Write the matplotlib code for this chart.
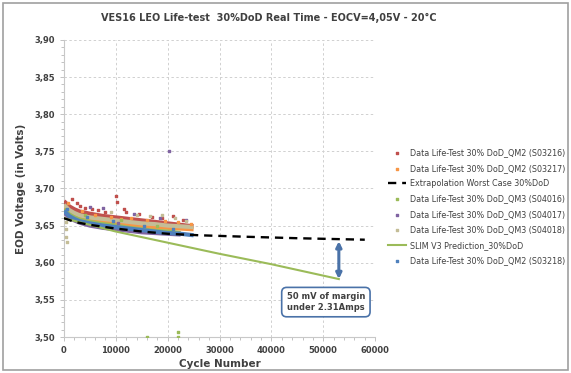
import numpy as np
import matplotlib
matplotlib.use('Agg')
import matplotlib.pyplot as plt
from matplotlib.patches import Rectangle
from matplotlib.ticker import MultipleLocator, FuncFormatter

# cycles for the dense data bands
cyc = [0, 1000, 2000, 3000, 5000, 7500, 10000, 12500, 15000, 17500, 20000, 22500, 25000]

v_s03216 = [3.683, 3.676, 3.672, 3.669, 3.666, 3.663, 3.661, 3.659, 3.657, 3.655, 3.653, 3.651, 3.649]
v_s03217 = [3.676, 3.669, 3.665, 3.662, 3.658, 3.655, 3.653, 3.651, 3.649, 3.648, 3.647, 3.646, 3.645]
v_s04018 = [3.678, 3.671, 3.667, 3.664, 3.661, 3.659, 3.657, 3.655, 3.653, 3.652, 3.650, 3.649, 3.648]
v_s04016 = [3.672, 3.665, 3.661, 3.658, 3.655, 3.652, 3.650, 3.647, 3.645, 3.643, 3.642, 3.640]
v_s04017 = [3.668, 3.661, 3.657, 3.654, 3.650, 3.647, 3.645, 3.643, 3.641, 3.640, 3.639, 3.638]
v_s03218 = [3.670, 3.663, 3.659, 3.656, 3.653, 3.650, 3.648, 3.646, 3.644, 3.642, 3.640, 3.639, 3.637]

# scattered points above / below the bands
sp_s03216_x = [1500, 2500, 4000, 6500, 8000, 10100, 10300, 12000, 14500, 17000, 19000, 21000, 23000, 3000, 5500, 11500]
sp_s03216_y = [3.686, 3.680, 3.674, 3.671, 3.668, 3.690, 3.682, 3.668, 3.665, 3.662, 3.660, 3.663, 3.658, 3.677, 3.672, 3.673]
sp_s03217_x = [800, 3500, 6000, 9000, 13000, 16000, 19500, 22000, 24500, 11000]
sp_s03217_y = [3.680, 3.670, 3.664, 3.662, 3.660, 3.658, 3.656, 3.655, 3.652, 3.659]
sp_s04016_x = [16000, 22000, 22000, 4000, 11000, 18000]
sp_s04016_y = [3.500, 3.500, 3.507, 3.664, 3.657, 3.650]
sp_s04017_x = [20200, 5000, 7500, 13500, 18500, 23500, 10500]
sp_s04017_y = [3.750, 3.675, 3.674, 3.665, 3.660, 3.657, 3.653]
sp_s04018_x = [300, 300, 300, 500, 9000, 14000, 16500, 19000, 21500, 23500]
sp_s04018_y = [3.655, 3.645, 3.635, 3.628, 3.668, 3.664, 3.663, 3.664, 3.660, 3.656]
sp_s03218_x = [600, 4500, 9500, 15500, 21000]
sp_s03218_y = [3.673, 3.662, 3.656, 3.650, 3.645]

extrap_x = [0, 2000, 5000, 10000, 15000, 20000, 26000, 35000, 45000, 58000]
extrap_y = [3.660, 3.655, 3.651, 3.646, 3.642, 3.639, 3.637, 3.635, 3.633, 3.631]

slim_x = [0, 5000, 10000, 20000, 30000, 40000, 53000]
slim_y = [3.660, 3.651, 3.642, 3.627, 3.612, 3.598, 3.578]

c_red = '#c0504d'
c_org = '#f79646'
c_grn = '#9bbb59'
c_pur = '#8064a2'
c_tan = '#c4bd97'
c_blu = '#4f81bd'
txt = '#404040'

fig = plt.figure(figsize=(5.71, 3.73), dpi=100)
fig.patches.append(Rectangle((0.006, 0.008), 0.988, 0.984, transform=fig.transFigure,
                             fill=False, edgecolor='#a0a0a0', lw=1.2))
ax = fig.add_axes([0.112, 0.0965, 0.545, 0.7965])

bands = [(v_s03216, c_red), (v_s03217, c_org), (v_s04018, c_tan),
         (v_s04016, c_grn), (v_s04017, c_pur), (v_s03218, c_blu)]
for v, c in bands:
    ax.plot(cyc[:len(v)], v, color=c, lw=3, solid_capstyle='butt', zorder=3)

ms = 3
h1 = ax.scatter(sp_s03216_x, sp_s03216_y, s=ms, marker='s', color=c_red, zorder=4,
                label='Data Life-Test 30% DoD_QM2 (S03216)')
h2 = ax.scatter(sp_s03217_x, sp_s03217_y, s=ms, marker='s', color=c_org, zorder=4,
                label='Data Life-Test 30% DoD_QM2 (S03217)')
h3, = ax.plot(extrap_x, extrap_y, color='black', ls=(0, (3.5, 2.5)), lw=1.7, zorder=5,
              label='Extrapolation Worst Case 30%DoD')
h4 = ax.scatter(sp_s04016_x, sp_s04016_y, s=ms, marker='s', color=c_grn, zorder=4,
                label='Data Life-Test 30% DoD_QM3 (S04016)')
h5 = ax.scatter(sp_s04017_x, sp_s04017_y, s=ms, marker='s', color=c_pur, zorder=4,
                label='Data Life-Test 30% DoD_QM3 (S04017)')
h6 = ax.scatter(sp_s04018_x, sp_s04018_y, s=ms, marker='s', color=c_tan, zorder=4,
                label='Data Life-Test 30% DoD_QM3 (S04018)')
h7, = ax.plot(slim_x, slim_y, color=c_grn, lw=1.5, zorder=3,
              label='SLIM V3 Prediction_30%DoD')
h8 = ax.scatter(sp_s03218_x, sp_s03218_y, s=ms, marker='s', color=c_blu, zorder=4,
                label='Data Life-Test 30% DoD_QM2 (S03218)')

ax.annotate('', xy=(53000, 3.578), xytext=(53000, 3.629),
            arrowprops=dict(arrowstyle='<|-|>', color='#4a72a8', lw=2.2,
                            mutation_scale=8, shrinkA=0, shrinkB=0), zorder=6)
ax.text(50500, 3.547, '50 mV of margin\nunder 2.31Amps', ha='center', va='center',
        fontsize=6, fontweight='bold', color=txt, zorder=7,
        bbox=dict(boxstyle='round,pad=0.6,rounding_size=0.6', fc='white',
                  ec='#4a72a8', lw=1.2))

ax.set_xlim(0, 60000)
ax.set_ylim(3.50, 3.90)
ax.xaxis.set_major_locator(MultipleLocator(10000))
ax.xaxis.set_minor_locator(MultipleLocator(2000))
ax.yaxis.set_major_locator(MultipleLocator(0.05))
ax.yaxis.set_minor_locator(MultipleLocator(0.01))
ax.yaxis.set_major_formatter(FuncFormatter(lambda v, p: ('%.2f' % v).replace('.', ',')))
ax.grid(True, which='major', ls=(0, (2.5, 2.5)), color='#d0d0d0', lw=0.7)
for s in ['top', 'right']:
    ax.spines[s].set_visible(False)
for s in ['left', 'bottom']:
    ax.spines[s].set_color('#c8c8c8')
ax.tick_params(which='both', colors='#b8b8b8', labelcolor=txt, labelsize=6, length=3, width=0.6)
ax.tick_params(which='minor', length=2)
for lab in ax.get_xticklabels() + ax.get_yticklabels():
    lab.set_fontweight('bold')

ax.set_xlabel('Cycle Number', fontsize=7.5, fontweight='bold', color=txt, labelpad=3)
ax.set_ylabel('EOD Voltage (in Volts)', fontsize=7.5, fontweight='bold', color=txt, labelpad=6)
fig.text(0.47, 0.953, 'VES16 LEO Life-test  30%DoD Real Time - EOCV=4,05V - 20°C',
         ha='center', va='center', fontsize=7.0, fontweight='bold', color=txt)

leg = ax.legend(handles=[h1, h2, h3, h4, h5, h6, h7, h8], loc='upper left',
                bbox_to_anchor=(385 / 571, 1 - 145 / 373), bbox_transform=fig.transFigure,
                frameon=False, fontsize=5.8, handlelength=2.2, handletextpad=0.5,
                labelspacing=0.8, borderaxespad=0, markerscale=1.0)
for t in leg.get_texts():
    t.set_color(txt)

fig.savefig('out.png', dpi=100)
